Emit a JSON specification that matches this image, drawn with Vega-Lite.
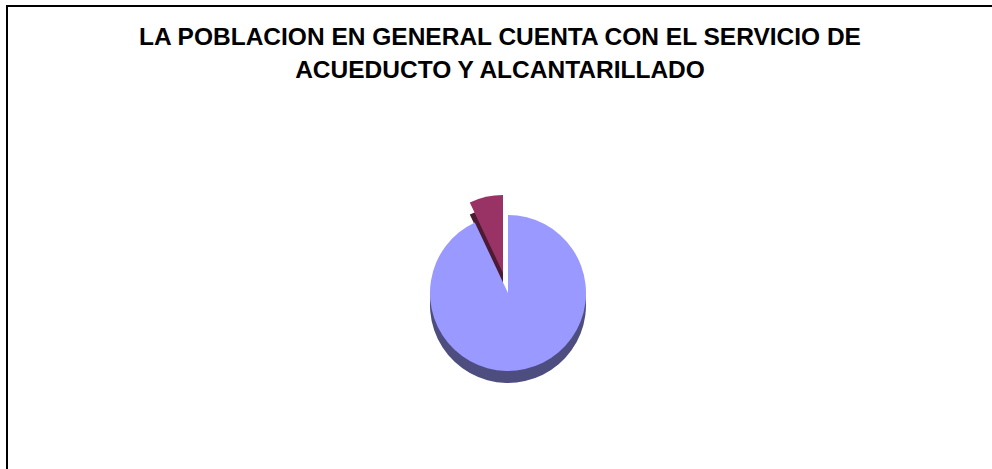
{
  "$schema": "https://vega.github.io/schema/vega-lite/v6.json",
  "width": 1002,
  "height": 574,
  "autosize": "none",
  "padding": {"left": 7, "top": 6, "right": 0, "bottom": 0},
  "background": "white",
  "view": {"stroke": "black", "strokeWidth": 2, "fill": "white"},
  "title": {
    "text": ["LA POBLACION EN GENERAL CUENTA CON EL SERVICIO DE", "ACUEDUCTO Y ALCANTARILLADO"],
    "font": "Liberation Sans",
    "fontSize": 24.5,
    "fontWeight": "bold",
    "color": "black",
    "anchor": "middle",
    "offset": -77,
    "dx": -8,
    "lineHeight": 33
  },
  "data": {
    "values": [
      {"categoria": "SI", "orden": 1, "valor": 93},
      {"categoria": "NO", "orden": 2, "valor": 7}
    ]
  },
  "transform": [
    {"stack": "valor", "groupby": [], "sort": [{"field": "orden"}], "as": ["ini", "fin"]}
  ],
  "layer": [
    {
      "transform": [{"filter": "datum.categoria === 'SI'"}],
      "mark": {"type": "arc", "radius": 78, "yOffset": 12, "color": "#4D4D80"},
      "encoding": {
        "theta": {"field": "ini", "type": "quantitative", "scale": {"domain": [0, 100]}},
        "theta2": {"field": "fin"}
      }
    },
    {
      "transform": [{"filter": "datum.categoria === 'NO'"}],
      "mark": {"type": "arc", "radius": 78, "xOffset": -5, "yOffset": -8, "color": "#4D1A33"},
      "encoding": {
        "theta": {"field": "ini", "type": "quantitative", "scale": {"domain": [0, 100]}},
        "theta2": {"field": "fin"}
      }
    },
    {
      "transform": [{"filter": "datum.categoria === 'SI'"}],
      "mark": {"type": "arc", "radius": 78, "color": "#9999FF"},
      "encoding": {
        "theta": {"field": "ini", "type": "quantitative", "scale": {"domain": [0, 100]}},
        "theta2": {"field": "fin"}
      }
    },
    {
      "transform": [{"filter": "datum.categoria === 'NO'"}],
      "mark": {"type": "arc", "radius": 78, "xOffset": -5, "yOffset": -20, "color": "#993366"},
      "encoding": {
        "theta": {"field": "ini", "type": "quantitative", "scale": {"domain": [0, 100]}},
        "theta2": {"field": "fin"}
      }
    }
  ]
}
